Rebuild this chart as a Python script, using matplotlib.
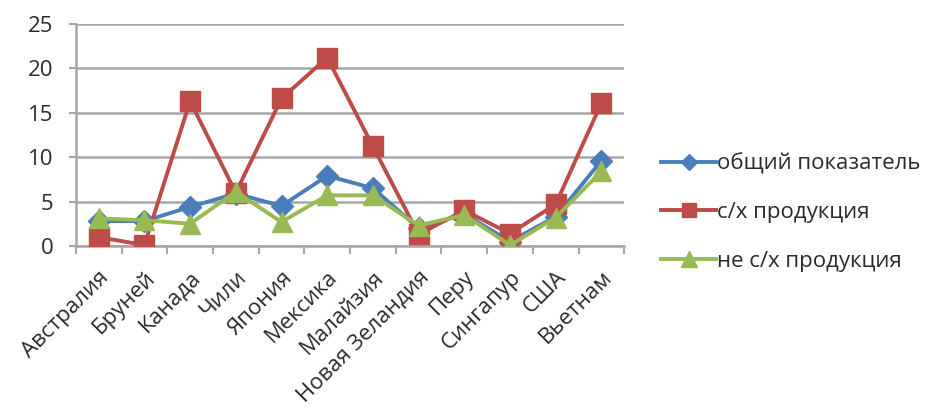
import numpy as np
import matplotlib
matplotlib.use("Agg")
import matplotlib.pyplot as plt
from matplotlib.ticker import MultipleLocator, FixedLocator

plt.rcParams['font.family'] = ['Open Sans', 'DejaVu Sans']

COUNTRIES = ["Австралия", "Бруней", "Канада", "Чили", "Япония", "Мексика",
             "Малайзия", "Новая Зеландия", "Перу", "Сингапур", "США", "Вьетнам"]
TOTAL = [2.8, 2.8, 4.4, 5.9, 4.5, 7.9, 6.5, 2.0, 3.6, 0.5, 3.3, 9.6]
AGRI = [1.0, 0.1, 16.3, 6.0, 16.6, 21.2, 11.2, 1.3, 4.0, 1.4, 4.7, 16.1]
NON_AGRI = [3.1, 2.9, 2.5, 6.1, 2.7, 5.7, 5.7, 2.3, 3.5, 0.1, 3.2, 8.4]

LABELS = ["общий показатель", "с/х продукция", "не с/х продукция"]
GRID = "#a6a6a6"
TXT = "#2b2b2b"

fig = plt.figure(figsize=(9.36, 4.11), dpi=100)
ax = fig.add_axes([0.081, 0.4015, 0.586, 0.5405])

x = np.arange(len(COUNTRIES))
ax.plot(x, TOTAL, color="#4A7EBB", lw=2.8, marker="D", ms=11, label=LABELS[0], zorder=3)
ax.plot(x, AGRI, color="#BE4B48", lw=2.8, marker="s", ms=14, label=LABELS[1], zorder=4)
ax.plot(x, NON_AGRI, color="#98B954", lw=2.8, marker="^", ms=15, label=LABELS[2], zorder=5)

ax.set_xlim(-0.5, len(COUNTRIES) - 0.5)
ax.set_ylim(0, 25)
ax.yaxis.set_major_locator(MultipleLocator(5))
ax.grid(axis="y", color=GRID, lw=1.8)
ax.set_axisbelow(True)

ax.set_xticks(x)
ax.set_xticklabels(COUNTRIES, rotation=45, ha="right", rotation_mode="anchor", fontsize=16)
ax.tick_params(axis="x", which="major", length=0, pad=15)
ax.xaxis.set_minor_locator(FixedLocator(np.arange(-0.5, len(COUNTRIES), 1)))
ax.tick_params(axis="x", which="minor", length=6, width=1.5, color=GRID)
ax.tick_params(axis="y", length=5, width=1.5, color=GRID, labelsize=16, labelcolor=TXT, pad=11)
ax.tick_params(axis="x", labelcolor=TXT)

for s in ["top", "right"]:
    ax.spines[s].set_visible(False)
for s in ["left", "bottom"]:
    ax.spines[s].set_color(GRID)
    ax.spines[s].set_linewidth(1.8)

leg = fig.legend(loc="center left", bbox_to_anchor=(0.706, 0.483), frameon=False,
                 fontsize=16, handlelength=2.5, labelspacing=1.25, handletextpad=0.05,
                 markerscale=0.75, borderaxespad=0, borderpad=0)
for t in leg.get_texts():
    t.set_color(TXT)

fig.savefig("out.png", dpi=100)
